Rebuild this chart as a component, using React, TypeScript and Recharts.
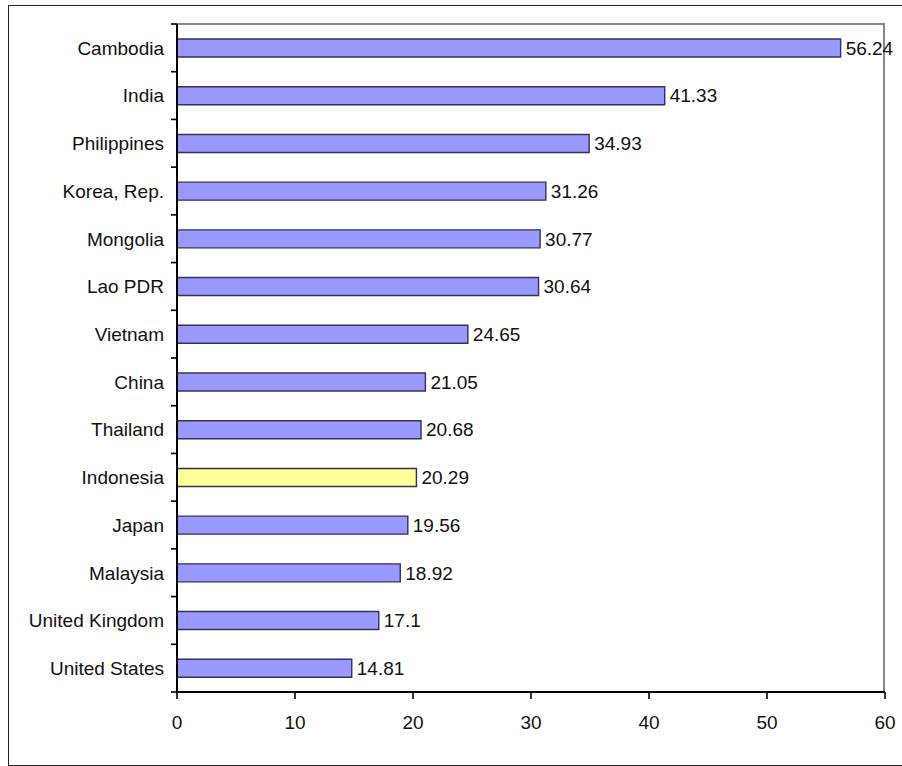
import React from "react";
import { BarChart, Bar, XAxis, YAxis, Cell, LabelList } from "recharts";

const countries = [
  "Cambodia",
  "India",
  "Philippines",
  "Korea, Rep.",
  "Mongolia",
  "Lao PDR",
  "Vietnam",
  "China",
  "Thailand",
  "Indonesia",
  "Japan",
  "Malaysia",
  "United Kingdom",
  "United States",
];
const values = [56.24, 41.33, 34.93, 31.26, 30.77, 30.64, 24.65, 21.05, 20.68, 20.29, 19.56, 18.92, 17.1, 14.81];
const highlighted = "Indonesia";
const xTicks = [0, 10, 20, 30, 40, 50, 60];

const data = countries.map((c, i) => ({ name: c, value: values[i] }));

const W = 902;
const H = 766;
const MARGIN = { top: 24, right: 17, bottom: 34, left: 0 };
const Y_AXIS_W = 177;
const X_AXIS_H = 40;
const PLOT_H = H - MARGIN.top - MARGIN.bottom - X_AXIS_H;
const PLOT_W = W - MARGIN.left - MARGIN.right - Y_AXIS_W;
const TICK_MARGIN = 13;
const FONT = "'Liberation Sans', Arial, sans-serif";

const CategoryTick = (props: any) => {
  const { x, y, payload, index } = props;
  const band = PLOT_H / countries.length;
  const axisX = x + TICK_MARGIN;
  return (
    <g>
      <text x={x} y={y} dy="0.36em" textAnchor="end" fontSize={19} fontFamily={FONT} fill="#111">
        {payload.value}
      </text>
      <line x1={axisX - 6} x2={axisX} y1={y - band / 2} y2={y - band / 2} stroke="#000" strokeWidth={1.6} />
      {index === countries.length - 1 && (
        <line x1={axisX - 6} x2={axisX} y1={y + band / 2} y2={y + band / 2} stroke="#000" strokeWidth={1.6} />
      )}
    </g>
  );
};

export default function App() {
  return (
    <div style={{ position: "fixed", left: 0, top: 0, width: W, height: H, background: "#fff", overflow: "hidden" }}>
      <div
        style={{
          position: "absolute",
          left: 8,
          top: 5,
          width: 920,
          height: 759,
          borderLeft: "1.5px solid #222",
          borderTop: "1.5px solid #222",
          borderBottom: "1.5px solid #222",
        }}
      />
      <div
        style={{
          position: "absolute",
          left: MARGIN.left + Y_AXIS_W,
          top: MARGIN.top - 1.5,
          width: PLOT_W,
          height: PLOT_H,
          borderTop: "2.5px solid #888",
          borderRight: "2.5px solid #888",
          boxSizing: "border-box",
        }}
      />
      <div style={{ position: "absolute", left: 0, top: 0 }}>
        <BarChart width={W} height={H} data={data} layout="vertical" margin={MARGIN}>
          <XAxis
            type="number"
            dataKey="value"
            domain={[0, 60]}
            ticks={xTicks}
            interval={0}
            height={X_AXIS_H}
            axisLine={{ stroke: "#000", strokeWidth: 2 }}
            tickLine={{ stroke: "#000", strokeWidth: 1.6 }}
            tickSize={7}
            tickMargin={17}
            tick={{ fontSize: 19, fill: "#111", fontFamily: FONT }}
          />
          <YAxis
            type="category"
            dataKey="name"
            width={Y_AXIS_W}
            axisLine={{ stroke: "#000", strokeWidth: 2 }}
            tickLine={false}
            tickSize={0}
            tickMargin={TICK_MARGIN}
            interval={0}
            tick={<CategoryTick />}
          />
          <Bar dataKey="value" barSize={18} stroke="#333355" strokeWidth={1.4} isAnimationActive={false}>
            {data.map((d) => (
              <Cell key={d.name} fill={d.name === highlighted ? "#FFFF99" : "#9999FF"} />
            ))}
            <LabelList dataKey="value" position="right" offset={5} fontSize={19} fill="#111" fontFamily={FONT} />
          </Bar>
        </BarChart>
      </div>
    </div>
  );
}
